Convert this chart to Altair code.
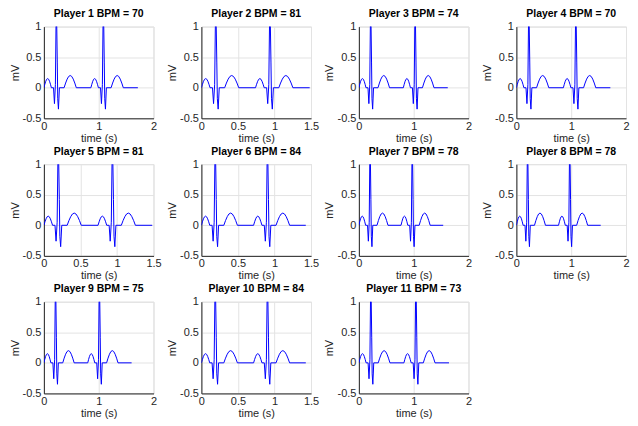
import altair as alt
import pandas as pd

# Heart rate of each player (from the panel titles)
BPMS = [70, 81, 74, 70, 81, 84, 78, 78, 75, 84, 73]
# Upper x-axis limit of each panel (seconds)
XMAX = [2, 1.5, 2, 2, 1.5, 1.5, 2, 2, 2, 1.5, 2]

# One heartbeat, position given as a fraction of the beat period
BEAT_PHASE = [0.0, 0.02, 0.04, 0.06, 0.08, 0.10, 0.12, 0.14, 0.16,          # P wave
              0.205, 0.225, 0.245, 0.265, 0.285, 0.295, 0.31, 0.33,          # QRS complex
              0.43, 0.4625, 0.495, 0.5275, 0.56, 0.5925, 0.625, 0.6575, 0.69]  # T wave
BEAT_MV = [0.0, 0.057, 0.106, 0.139, 0.15, 0.139, 0.106, 0.057, 0.0,
           0.0, -0.26, 0.05, 1.5, 0.42, -0.18, -0.35, 0.0,
           0.0, 0.077, 0.141, 0.185, 0.2, 0.185, 0.141, 0.077, 0.0]
N_BEATS = 2

Y_TICKS = [-0.5, 0, 0.5, 1]
X_TICKS_2 = [0, 1, 2]
X_TICKS_15 = [0, 0.5, 1, 1.5]

FONT = "Liberation Sans"
DARK = "#262626"
GRID = "#e3e3e3"
W, H = 110, 92


def trace(bpm):
    period = 60.0 / bpm
    rows = []
    for k in range(N_BEATS):
        for ph, v in zip(BEAT_PHASE, BEAT_MV):
            rows.append({"t": (k + ph) * period, "mv": v})
    rows.append({"t": N_BEATS * period, "mv": 0.0})
    return pd.DataFrame(rows)


def panel(i):
    bpm = BPMS[i]
    xmax = XMAX[i]
    xt = X_TICKS_2 if xmax == 2 else X_TICKS_15
    common = dict(
        grid=True, gridColor=GRID, gridWidth=1,
        domainColor=DARK, domainWidth=1,
        ticks=False,
        labelColor=DARK, labelFontSize=11, labelFont=FONT,
        titleColor=DARK, titleFontSize=11, titleFont=FONT, titleFontWeight="normal",
        labelExpr="toString(datum.value)", labelFlush=False, labelOverlap=False,
    )
    return (
        alt.Chart(trace(bpm))
        .mark_line(color="#0000ff", strokeWidth=1, clip=True)
        .encode(
            x=alt.X("t:Q", scale=alt.Scale(domain=[0, xmax], nice=False, zero=False),
                    axis=alt.Axis(values=xt, title="time (s)", labelPadding=2, titlePadding=1, **common)),
            y=alt.Y("mv:Q", scale=alt.Scale(domain=[-0.5, 1], nice=False, zero=False),
                    axis=alt.Axis(values=Y_TICKS, title="mV", labelPadding=3, titlePadding=2, **common)),
        )
        .properties(
            width=W, height=H,
            title=alt.TitleParams(f"Player {i + 1} BPM = {bpm}", font=FONT, fontSize=10.5,
                                  fontWeight="bold", color="#000000", offset=1, frame="group",
                                  anchor="middle"),
        )
    )


panels = [panel(i) for i in range(len(BPMS))]
chart = (
    alt.concat(*panels, columns=4, spacing={"row": 46, "column": 48}, bounds="flush")
    .properties(padding={"left": 0, "top": 0, "right": 0, "bottom": 0})
    .configure_view(strokeWidth=0)
    .configure(font=FONT)
)

chart.save("out.html", embed_options={"renderer": "svg", "actions": False})
